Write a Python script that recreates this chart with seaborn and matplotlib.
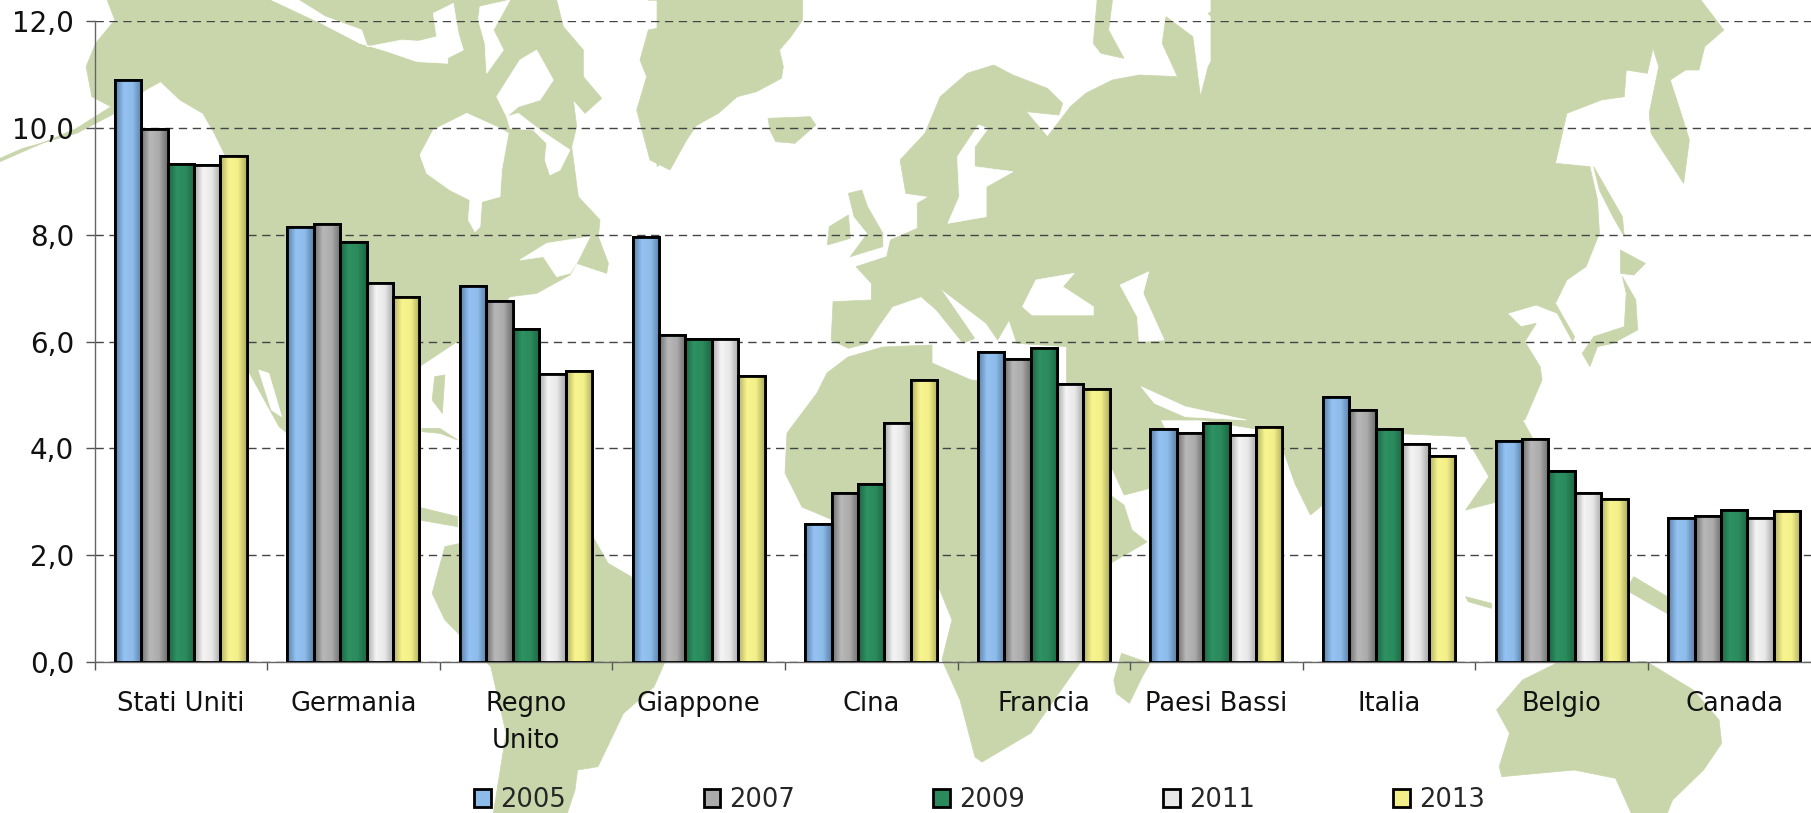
import numpy as np
import pandas as pd
import matplotlib
matplotlib.use("Agg")
import matplotlib.pyplot as plt
from matplotlib.colors import LinearSegmentedColormap
from matplotlib.patches import Polygon
import seaborn as sns

countries = ["Stati Uniti", "Germania", "Regno\nUnito", "Giappone", "Cina",
             "Francia", "Paesi Bassi", "Italia", "Belgio", "Canada"]
years = ["2005", "2007", "2009", "2011", "2013"]
v2005 = [10.9, 8.15, 7.03, 7.95, 2.58, 5.80, 4.37, 4.97, 4.13, 2.70]
v2007 = [9.97, 8.20, 6.75, 6.12, 3.17, 5.68, 4.28, 4.72, 4.17, 2.73]
v2009 = [9.33, 7.87, 6.23, 6.05, 3.33, 5.88, 4.48, 4.37, 3.57, 2.85]
v2011 = [9.30, 7.10, 5.40, 6.04, 4.48, 5.20, 4.25, 4.08, 3.17, 2.70]
v2013 = [9.48, 6.83, 5.44, 5.36, 5.28, 5.12, 4.40, 3.85, 3.05, 2.82]
yticks = [0, 2, 4, 6, 8, 10, 12]

mid_colors = ["#8DBBEA", "#ABABAB", "#2A8A5C", "#E8E8E8", "#F3F08A"]
dark_colors = ["#5A80A8", "#6E6E6E", "#1C6642", "#A8A8A8", "#B0AE60"]
light_colors = ["#94C2F2", "#B8B8B8", "#2E9263", "#F4F4F4", "#F8F590"]


# background map outlines were traced on crops of the picture, this puts them back in pixels
def crop(points, x0, y0, sx):
    return [(x0 + px / sx, y0 + py / 3) for px, py in points]


north_america = (
    crop([(280, 0)], 0, 0, 2.613)
    + crop([(470, 0), (490, 80), (550, 150), (550, 230), (605, 295), (555, 340), (520, 300), (530, 380), (515, 440),
            (535, 590), (600, 660), (595, 710), (625, 790), (620, 820), (530, 790), (510, 825), (410, 880),
            (330, 890), (270, 960)], 400, 0, 3)
    + crop([(430, 200), (425, 620), (505, 650), (505, 680), (430, 660), (300, 560), (155, 380), (90, 200)], 200, 300, 1.96)
    + crop([(640, 900), (590, 470), (560, 400), (530, 340), (470, 300), (420, 245), (380, 270), (300, 340), (200, 400),
            (60, 445), (0, 475), (0, 485), (200, 385), (290, 320), (240, 290), (225, 200), (250, 130), (300, 60)],
           0, 0, 2.613)
)
florida = crop([(460, 230), (480, 225), (475, 340), (455, 300)], 200, 300, 1.96)
cuba = crop([(435, 385), (470, 385), (505, 420), (470, 400), (435, 395)], 200, 300, 1.96)
south_america = crop([(480, 740), (510, 730), (770, 710), (800, 790), (845, 830), (910, 1090), (890, 1160), (830, 1240),
                      (780, 1400), (740, 1410), (735, 1470), (720, 1539), (575, 1539), (600, 1300), (570, 1100),
                      (480, 960), (455, 880)], 200, 300, 1.96)
greenland = crop([(745, 0), (900, 0), (900, 360), (860, 420), (810, 510), (750, 480), (710, 330), (740, 230),
                  (720, 180), (745, 90)], 400, 0, 3) + [(803, 0 + 0)]
greenland_east = crop([(320, 0), (320, 60), (290, 110), (260, 150), (270, 200), (265, 235), (200, 275), (150, 290),
                       (100, 340), (30, 385), (0, 440), (-60, 500), (-60, 0)], 680, 0, 2.613)
iceland = crop([(230, 355), (340, 350), (355, 375), (300, 430), (250, 425), (235, 390)], 680, 0, 2.613)
britain = crop([(440, 580), (475, 570), (490, 620), (530, 700), (530, 740), (445, 770), (490, 700), (455, 650)], 680, 0, 2.613)
ireland = crop([(390, 680), (440, 645), (445, 715), (385, 735)], 680, 0, 2.613)
novaya = crop([(1090, 0), (1130, 0), (1120, 90), (1160, 175), (1100, 160), (1080, 130)], 680, 0, 2.613)
europe = crop([(395, 1020), (400, 905), (500, 900), (500, 850), (460, 800), (540, 770), (550, 720), (620, 685), (620, 610),
               (650, 590), (590, 580), (575, 480), (640, 400), (680, 290), (750, 220), (820, 195), (870, 225), (960, 265),
               (1000, 310), (990, 345), (905, 335), (960, 410), (1020, 320), (1060, 280), (1130, 240), (1200, 225),
               (1300, 230), (1260, 130), (1270, 50), (1340, 110), (1360, 290), (1380, 200), (1430, 100), (1380, 40),
               (1450, 0), (1568, 0), (1568, 1260), (1010, 1260), (1010, 1040), (880, 1030), (860, 960), (830, 1020),
               (800, 970), (680, 865), (770, 1015), (740, 1030), (670, 930), (630, 890), (555, 920), (515, 985),
               (490, 1030), (440, 1045)], 680, 0, 2.613)
far_east = crop([(0, 0), (1280, 0), (1340, 90), (1290, 140), (1275, 210), (1240, 210), (1200, 240), (1220, 310), (1250, 420),
                 (1235, 550), (1150, 400), (1145, 340), (1170, 200), (1155, 145), (1140, 220), (1085, 210), (1080, 290),
                 (1020, 300), (930, 340), (900, 490), (990, 500), (1010, 600), (1015, 700), (980, 800), (930, 840),
                 (900, 910), (950, 1010), (945, 1025), (905, 940), (850, 915), (775, 940), (810, 980), (850, 970),
                 (820, 1025), (860, 1100), (865, 1140), (820, 1260), (0, 1260)], 1211, 0, 2.613)
sakhalin = crop([(1000, 500), (1040, 580), (1075, 650), (1080, 710), (1050, 650), (1015, 570)], 1211, 0, 2.613)
hokkaido = crop([(1070, 750), (1110, 775), (1135, 790), (1105, 825), (1070, 820)], 1211, 0, 2.613)
honshu = crop([(1075, 830), (1110, 900), (1115, 990), (1050, 1030), (1010, 1040), (990, 1100), (970, 1060), (1000, 1010),
               (1080, 980), (1085, 880)], 1211, 0, 2.613)
indochina = crop([(880, 0), (1030, 0), (1010, 60), (1060, 200), (1000, 250), (1000, 290), (900, 330), (945, 230), (900, 110)],
                 1000, 400, 1.933)
india = crop([(530, 0), (545, 140), (570, 250), (600, 345), (620, 320), (680, 190), (760, 100), (900, 110), (880, 0)],
             1000, 400, 1.933)
iran = crop([(280, -10), (530, -10), (545, 100), (350, 50)], 1000, 400, 1.933)
arabia = crop([(212, 0), (215, 200), (240, 285), (290, 265), (350, 180), (310, 60), (280, -10)], 1000, 400, 1.933)
africa = [(848, 357), (883, 347), (932, 345), (932, 363), (971, 380), (1040, 385), (1075, 440), (1110, 495), (1124, 505),
          (1132, 530), (1147, 542), (1111, 563), (1095, 620), (1080, 663), (1031, 733), (982, 762), (975, 757),
          (960, 700), (942, 660), (952, 620), (937, 583), (880, 540), (802, 507), (785, 473), (787, 433), (817, 393), (827, 373)]
madagascar = crop([(235, 760), (290, 790), (275, 830), (250, 910), (225, 880), (220, 840)], 1000, 400, 1.933)
australia = crop([(1075, 790), (1250, 785), (1340, 870), (1390, 960), (1395, 1030), (1360, 1110), (1300, 1200), (1290, 1239),
                  (1220, 1239), (1190, 1135), (1110, 1110), (970, 1130), (965, 1100), (985, 1000), (960, 930), (1010, 840)],
                 1000, 400, 1.933)
new_guinea = crop([(1225, 530), (1290, 590), (1300, 650), (1210, 570)], 1000, 400, 1.933)
java = crop([(900, 590), (950, 610), (950, 625), (905, 605)], 1000, 400, 1.933)

land = [north_america, florida, cuba, south_america, greenland, greenland_east, iceland, britain, ireland, novaya, europe,
        far_east, sakhalin, hokkaido, honshu, indochina, india, iran, arabia, africa, madagascar, australia, new_guinea, java]

hudson = crop([(60, 465), (100, 390), (200, 340), (300, 385), (325, 400), (305, 510), (300, 590), (245, 605), (240, 680),
               (225, 695), (205, 660), (210, 600), (150, 570), (80, 520)], 400, 0, 3)
foxe = crop([(290, 290), (360, 180), (410, 150), (460, 240), (420, 300), (355, 320), (320, 350)], 400, 0, 3)
ungava = crop([(320, 350), (355, 340), (420, 390), (510, 450), (480, 510), (450, 525), (435, 480), (440, 430), (400, 390),
               (330, 385)], 400, 0, 3)
channel_a = crop([(240, 20), (330, 0), (280, 90), (310, 150), (260, 220), (255, 130), (235, 60)], 400, 0, 3)
channel_b = crop([(100, 40), (160, 10), (175, 100), (190, 150), (130, 180), (50, 170), (30, 130), (110, 110)], 400, 0, 3)
st_lawrence = crop([(360, 780), (440, 730), (570, 710), (530, 790), (510, 820), (470, 830), (430, 770)], 400, 0, 3)
arctic = crop([(710, 0), (780, 0), (850, 50), (945, 90), (960, 140), (1050, 120), (1170, 130), (1170, 190), (1090, 185),
               (1000, 150), (940, 130), (840, 70)], 0, 0, 2.613)
baja = crop([(115, 210), (135, 220), (160, 350), (140, 330)], 200, 300, 1.96)
baltic = crop([(780, 375), (805, 385), (770, 440), (770, 500), (870, 515), (800, 560), (800, 650), (700, 670), (730, 590),
               (725, 470)], 680, 0, 2.613)
black_sea = crop([(930, 840), (1030, 820), (1000, 860), (1080, 920), (1080, 945), (920, 945), (895, 920)], 680, 0, 2.613)
caspian = crop([(1150, 855), (1225, 815), (1210, 880), (1265, 1020), (1200, 1025), (1195, 950)], 680, 0, 2.613)
persian_gulf = crop([(1205, 1160), (1320, 1220), (1480, 1260), (1320, 1250), (1240, 1210)], 680, 0, 2.613)
water = [hudson, foxe, ungava, channel_a, channel_b, st_lawrence, arctic, baja, baltic, black_sea, caspian, persian_gulf]

df = pd.DataFrame({"paese": countries, "2005": v2005, "2007": v2007, "2009": v2009,
                   "2011": v2011, "2013": v2013})
df = df.melt(id_vars="paese", var_name="anno", value_name="valore")

sns.set_theme(style="white")
plt.rcParams["font.family"] = ["DejaVu Sans"]

fig = plt.figure(figsize=(18.11, 8.13), dpi=100)

bg = fig.add_axes([0, 0, 1, 1])
for shape in land:
    bg.add_patch(Polygon(shape, closed=True, fc="#C9D6AC", ec="#C9D6AC", lw=0.5))
for shape in water:
    bg.add_patch(Polygon(shape, closed=True, fc="white", ec="white", lw=0.5))
bg.set_xlim(0, 1811)
bg.set_ylim(813, 0)
bg.axis("off")

# axes box from the pixel positions of the plot area
left, right, top, bottom = 94.5, 1811, 21, 662
ax = fig.add_axes([left / 1811, 1 - bottom / 813, (right - left) / 1811, (bottom - top) / 813])
ax.patch.set_alpha(0)

sns.barplot(data=df, x="paese", y="valore", hue="anno", hue_order=years, palette=mid_colors,
            width=0.765, gap=0, edgecolor="black", linewidth=2, saturation=1, zorder=3, ax=ax)

# horizontal gradient inside every bar
n = len(countries)
for i, container in enumerate(ax.containers):
    cmap = LinearSegmentedColormap.from_list("bar", [dark_colors[i], light_colors[i], mid_colors[i], dark_colors[i]])
    for bar in container:
        x0, w, h = bar.get_x(), bar.get_width(), bar.get_height()
        img = ax.imshow(np.linspace(0, 1, 64).reshape(1, -1), cmap=cmap, aspect="auto",
                        extent=[x0, x0 + w, 0, h], zorder=3.5)
        img.set_clip_path(bar)
        outline = plt.Rectangle((x0, 0), w, h, fc="none", ec="black", lw=2, zorder=4)
        ax.add_patch(outline)

ax.set_xlim(-0.5, (right - left) / 172.6 - 0.5)
ax.set_ylim(0, 12)
ax.set_xlabel("")
ax.set_ylabel("")
ax.set_yticks(yticks)
ax.set_yticklabels([f"{t:.1f}".replace(".", ",") for t in yticks], fontsize=20, color="#111111")
ax.set_xticks(range(n))
ax.set_xticklabels(countries, fontsize=18.5, color="#111111", linespacing=1.54)
ax.set_xticks(np.arange(n) - 0.5, minor=True)
ax.tick_params(axis="x", which="major", length=0, pad=21)
ax.tick_params(axis="x", which="minor", length=6, width=1, color="#555555", bottom=True)
ax.tick_params(axis="y", length=6.5, width=1, color="#555555", left=True, pad=8)
ax.grid(axis="y", color="#444444", linestyle=(0, (6, 4)), linewidth=1)
ax.set_axisbelow(True)
for side in ["top", "right"]:
    ax.spines[side].set_visible(False)
for side in ["left", "bottom"]:
    ax.spines[side].set_color("#666666")
    ax.spines[side].set_linewidth(1)

sns.move_legend(ax, "center left", bbox_to_anchor=(0.221, -0.2153), ncol=5, frameon=False, title=None,
                fontsize=18.5, handlelength=0.66, handleheight=0.66, handletextpad=0.35, columnspacing=5.37,
                borderpad=0, borderaxespad=0)

fig.savefig("out.png", dpi=100)
